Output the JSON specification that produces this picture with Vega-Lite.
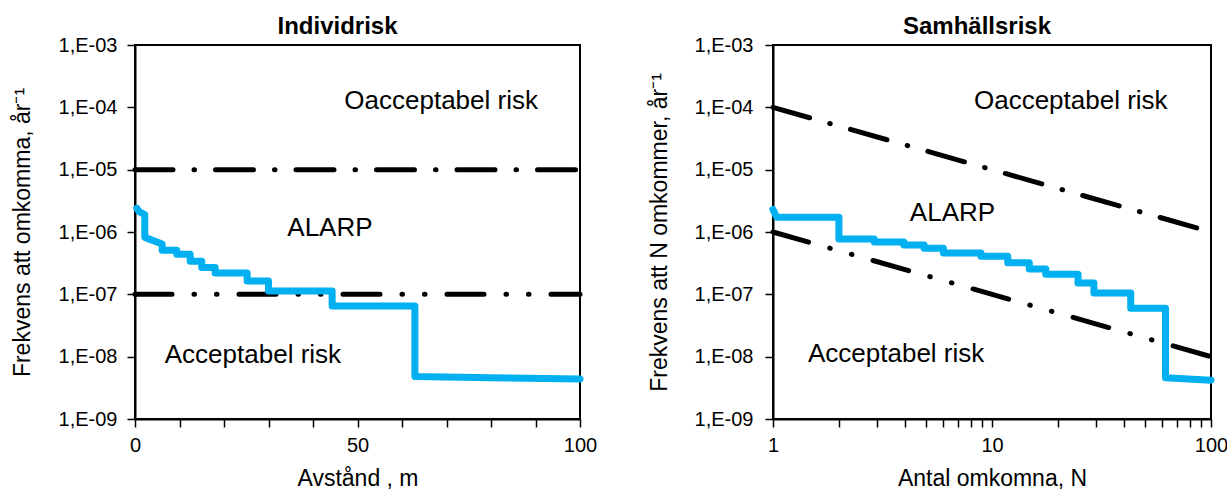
{
  "$schema": "https://vega.github.io/schema/vega-lite/v6.json",
  "background": "white",
  "padding": {"left": 10, "top": 14, "right": 0, "bottom": 0},
  "spacing": 49,
  "config": {
    "font": "Liberation Sans",
    "view": {"stroke": "black", "strokeWidth": 2},
    "axis": {
      "grid": false, "domainColor": "black", "domainWidth": 2,
      "tickColor": "black", "tickWidth": 1.5, "tickSize": 8,
      "labelFont": "Liberation Sans", "labelFontSize": 20, "labelColor": "black",
      "labelFlush": false, "labelOverlap": false,
      "titleFont": "Liberation Sans", "titleFontSize": 23, "titleFontWeight": "normal", "titleColor": "black"
    },
    "title": {"font": "Liberation Sans", "fontSize": 24, "fontWeight": "bold", "color": "black"}
  },
  "resolve": {"scale": {"x": "independent", "y": "independent"}},
  "datasets": {
    "indiv": [
      {"i": 0, "x": 0.4, "y": 2.4e-6},
      {"i": 1, "x": 1.0, "y": 2.1e-6},
      {"i": 2, "x": 2.2, "y": 1.9e-6},
      {"i": 3, "x": 2.2, "y": 8.2e-7},
      {"i": 4, "x": 6.1, "y": 6.4e-7},
      {"i": 5, "x": 6.1, "y": 5.1e-7},
      {"i": 6, "x": 9.4, "y": 5.1e-7},
      {"i": 7, "x": 9.4, "y": 4.4e-7},
      {"i": 8, "x": 12.4, "y": 4.4e-7},
      {"i": 9, "x": 12.4, "y": 3.4e-7},
      {"i": 10, "x": 15.0, "y": 3.4e-7},
      {"i": 11, "x": 15.0, "y": 2.7e-7},
      {"i": 12, "x": 18.0, "y": 2.7e-7},
      {"i": 13, "x": 18.0, "y": 2.2e-7},
      {"i": 14, "x": 25.2, "y": 2.2e-7},
      {"i": 15, "x": 25.2, "y": 1.64e-7},
      {"i": 16, "x": 30.0, "y": 1.64e-7},
      {"i": 17, "x": 30.0, "y": 1.13e-7},
      {"i": 18, "x": 44.3, "y": 1.13e-7},
      {"i": 19, "x": 44.3, "y": 6.5e-8},
      {"i": 20, "x": 62.9, "y": 6.5e-8},
      {"i": 21, "x": 62.9, "y": 4.8e-9},
      {"i": 22, "x": 80.0, "y": 4.6e-9},
      {"i": 23, "x": 100.0, "y": 4.4e-9}
    ],
    "indivUpper": [{"x": 0, "y": 1e-5}, {"x": 100, "y": 1e-5}],
    "indivLower": [{"x": 0, "y": 1e-7}, {"x": 100, "y": 1e-7}],
    "indivText": [
      {"x": 68.8, "y": 1.26e-4, "label": "Oacceptabel risk"},
      {"x": 43.8, "y": 1.16e-6, "label": "ALARP"},
      {"x": 26.5, "y": 1.08e-8, "label": "Acceptabel risk"}
    ],
    "soc": [
      {"i": 0, "x": 1.0, "y": 2.3e-6},
      {"i": 1, "x": 1.04, "y": 1.72e-6},
      {"i": 2, "x": 2.0, "y": 1.72e-6},
      {"i": 3, "x": 2.0, "y": 7.7e-7},
      {"i": 4, "x": 2.9, "y": 7.7e-7},
      {"i": 5, "x": 2.9, "y": 6.9e-7},
      {"i": 6, "x": 3.96, "y": 6.9e-7},
      {"i": 7, "x": 3.96, "y": 6.2e-7},
      {"i": 8, "x": 4.9, "y": 6.2e-7},
      {"i": 9, "x": 4.9, "y": 5.5e-7},
      {"i": 10, "x": 6.0, "y": 5.5e-7},
      {"i": 11, "x": 6.0, "y": 4.6e-7},
      {"i": 12, "x": 8.9, "y": 4.6e-7},
      {"i": 13, "x": 8.9, "y": 4.1e-7},
      {"i": 14, "x": 11.8, "y": 4.1e-7},
      {"i": 15, "x": 11.8, "y": 3.2e-7},
      {"i": 16, "x": 14.8, "y": 3.2e-7},
      {"i": 17, "x": 14.8, "y": 2.55e-7},
      {"i": 18, "x": 17.6, "y": 2.55e-7},
      {"i": 19, "x": 17.6, "y": 2.1e-7},
      {"i": 20, "x": 24.7, "y": 2.1e-7},
      {"i": 21, "x": 24.7, "y": 1.52e-7},
      {"i": 22, "x": 29.2, "y": 1.52e-7},
      {"i": 23, "x": 29.2, "y": 1.05e-7},
      {"i": 24, "x": 43.0, "y": 1.05e-7},
      {"i": 25, "x": 43.0, "y": 6.0e-8},
      {"i": 26, "x": 62.0, "y": 6.0e-8},
      {"i": 27, "x": 62.0, "y": 4.6e-9},
      {"i": 28, "x": 100.0, "y": 4.2e-9}
    ],
    "socUpper": [{"x": 1, "y": 1e-4}, {"x": 100, "y": 1e-6}],
    "socLower": [{"x": 1, "y": 1e-6}, {"x": 100, "y": 1e-8}],
    "socText": [
      {"x": 22.9, "y": 1.26e-4, "label": "Oacceptabel risk"},
      {"x": 6.6, "y": 2.0e-6, "label": "ALARP"},
      {"x": 3.65, "y": 1.1e-8, "label": "Acceptabel risk"}
    ]
  },
  "hconcat": [
    {
      "width": 445, "height": 374,
      "title": {"text": "Individrisk", "dx": -20, "dy": 12, "offset": 8},
      "encoding": {
        "x": {"field": "x", "type": "quantitative",
          "scale": {"domain": [0, 100], "nice": false, "zero": false},
          "axis": {"values": [0, 10, 20, 30, 40, 50, 60, 70, 80, 90, 100],
            "labelExpr": "datum.value % 50 === 0 ? datum.label : ''",
            "title": "Avstånd , m", "labelPadding": 8, "titlePadding": 12}},
        "y": {"field": "y", "type": "quantitative",
          "scale": {"type": "log", "domain": [1e-9, 1e-3], "nice": false},
          "axis": {"values": [1e-9, 1e-8, 1e-7, 1e-6, 1e-5, 1e-4, 1e-3],
            "labelExpr": "'1,E-' + (abs(round(log(datum.value)/LN10)) < 10 ? '0' : '') + abs(round(log(datum.value)/LN10))",
            "title": "Frekvens att omkomma, år⁻¹", "labelPadding": 10, "titlePadding": 24}}
      },
      "layer": [
        {"data": {"name": "indivUpper"},
         "mark": {"type": "line", "color": "black", "strokeWidth": 5, "strokeDash": [38, 21, 0.5, 21], "strokeCap": "round"}},
        {"data": {"name": "indivLower"},
         "mark": {"type": "line", "color": "black", "strokeWidth": 5, "strokeDash": [37, 22, 0.5, 22, 0.5, 22], "strokeCap": "round"}},
        {"data": {"name": "indiv"},
         "mark": {"type": "line", "color": "#00B0F0", "strokeWidth": 7, "strokeJoin": "round", "strokeCap": "round"},
         "encoding": {"order": {"field": "i", "type": "quantitative"}}},
        {"data": {"name": "indivText"},
         "mark": {"type": "text", "fontSize": 26, "color": "black", "font": "Liberation Sans"},
         "encoding": {"text": {"field": "label", "type": "nominal"}}}
      ]
    },
    {
      "width": 438, "height": 374,
      "title": {"text": "Samhällsrisk", "dx": -15, "dy": 12, "offset": 8},
      "encoding": {
        "x": {"field": "x", "type": "quantitative",
          "scale": {"type": "log", "domain": [1, 100], "nice": false},
          "axis": {"values": [1, 2, 3, 4, 5, 6, 7, 8, 9, 10, 20, 30, 40, 50, 60, 70, 80, 90, 100],
            "labelExpr": "(datum.value === 1 || datum.value === 10 || datum.value === 100) ? format(datum.value, 'd') : ''",
            "title": "Antal omkomna, N", "labelPadding": 8, "titlePadding": 12}},
        "y": {"field": "y", "type": "quantitative",
          "scale": {"type": "log", "domain": [1e-9, 1e-3], "nice": false},
          "axis": {"values": [1e-9, 1e-8, 1e-7, 1e-6, 1e-5, 1e-4, 1e-3],
            "labelExpr": "'1,E-' + (abs(round(log(datum.value)/LN10)) < 10 ? '0' : '') + abs(round(log(datum.value)/LN10))",
            "title": "Frekvens att N omkommer, år⁻¹", "labelPadding": 12, "titlePadding": 23}}
      },
      "layer": [
        {"data": {"name": "socUpper"},
         "mark": {"type": "line", "color": "black", "strokeWidth": 5, "strokeDash": [38, 21, 0.5, 21], "strokeCap": "round"}},
        {"data": {"name": "socLower"},
         "mark": {"type": "line", "color": "black", "strokeWidth": 5, "strokeDash": [37, 22, 0.5, 22, 0.5, 22], "strokeCap": "round"}},
        {"data": {"name": "soc"},
         "mark": {"type": "line", "color": "#00B0F0", "strokeWidth": 7, "strokeJoin": "round", "strokeCap": "round"},
         "encoding": {"order": {"field": "i", "type": "quantitative"}}},
        {"data": {"name": "socText"},
         "mark": {"type": "text", "fontSize": 26, "color": "black", "font": "Liberation Sans"},
         "encoding": {"text": {"field": "label", "type": "nominal"}}}
      ]
    }
  ]
}
